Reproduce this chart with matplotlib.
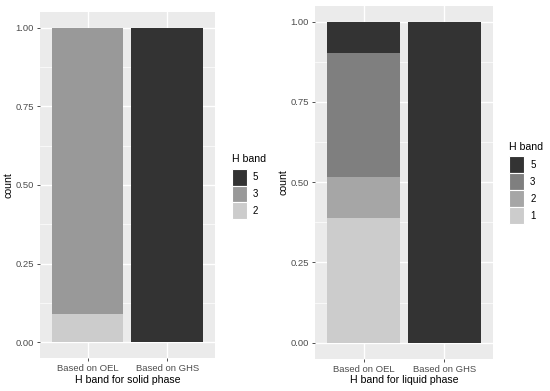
import matplotlib
matplotlib.use('Agg')
from matplotlib import pyplot as plt
from matplotlib.patches import Patch
import numpy as np

plt.rcParams['font.family'] = ['Liberation Sans', 'DejaVu Sans']

# data: proportions per H band
groups = ['Based on OEL', 'Based on GHS']
solid_bands = ['5', '3', '2']
solid_vals = {'2': [0.09, 0.0], '3': [0.91, 0.0], '5': [0.0, 1.0]}
solid_cols = {'5': '#333333', '3': '#999999', '2': '#cccccc'}

liquid_bands = ['5', '3', '2', '1']
liquid_vals = {'1': [0.387, 0.0], '2': [0.129, 0.0], '3': [0.387, 0.0], '5': [0.097, 1.0]}
liquid_cols = {'5': '#333333', '3': '#7f7f7f', '2': '#a6a6a6', '1': '#cccccc'}


def doplot(ax, bands, vals, cols, xtitle, leg_xy):
    ax.set_facecolor('#ebebeb')
    x = np.arange(1, len(groups) + 1)
    bottom = np.zeros(len(groups))
    # stack from lowest band upward
    for b in bands[::-1]:
        v = np.array(vals[b])
        ax.bar(x, v, width=0.9, bottom=bottom, color=cols[b], zorder=3)
        bottom += v
    ax.set_xlim(0.4, 2.6)
    ax.set_ylim(-0.05, 1.05)
    ax.set_yticks([0, 0.25, 0.5, 0.75, 1.0])
    ax.set_yticklabels(['0.00', '0.25', '0.50', '0.75', '1.00'])
    ax.set_yticks([0.125, 0.375, 0.625, 0.875], minor=True)
    ax.set_xticks(x)
    ax.set_xticklabels(groups)
    ax.grid(which='major', color='white', lw=1.0, zorder=0)
    ax.grid(which='minor', axis='y', color='white', lw=0.5, zorder=0)
    ax.tick_params(which='major', length=2.5, width=0.6, color='#333333',
                   labelcolor='#4d4d4d', labelsize=6.8, pad=2)
    ax.tick_params(which='minor', length=0)
    for s in ax.spines.values():
        s.set_visible(False)
    ax.set_axisbelow(True)
    ax.set_xlabel(xtitle, fontsize=7.6, labelpad=1)
    ax.set_ylabel('count', fontsize=7.6, labelpad=1)
    handles = [Patch(facecolor=cols[b], edgecolor='white', lw=0.8) for b in bands]
    leg = ax.legend(handles, bands, title='H band', loc='upper left',
                    bbox_to_anchor=leg_xy, bbox_transform=ax.figure.transFigure,
                    frameon=False, fontsize=7, title_fontsize=7.6,
                    handlelength=1.6, handleheight=2.3, handletextpad=0.6,
                    labelspacing=0.0, borderpad=0, borderaxespad=0)
    leg._legend_box.align = 'left'
    leg._legend_box.sep = 3


fig = plt.figure(figsize=(5.5, 3.91), dpi=100)
ax1 = fig.add_axes([0.0727, 0.0844, 0.318, 0.885])
ax2 = fig.add_axes([0.5727, 0.0825, 0.3236, 0.903])
doplot(ax1, solid_bands, solid_vals, solid_cols, 'H band for solid phase', (0.421, 0.605))
doplot(ax2, liquid_bands, liquid_vals, liquid_cols, 'H band for liquid phase', (0.925, 0.636))
fig.savefig('out.png', dpi=100)
